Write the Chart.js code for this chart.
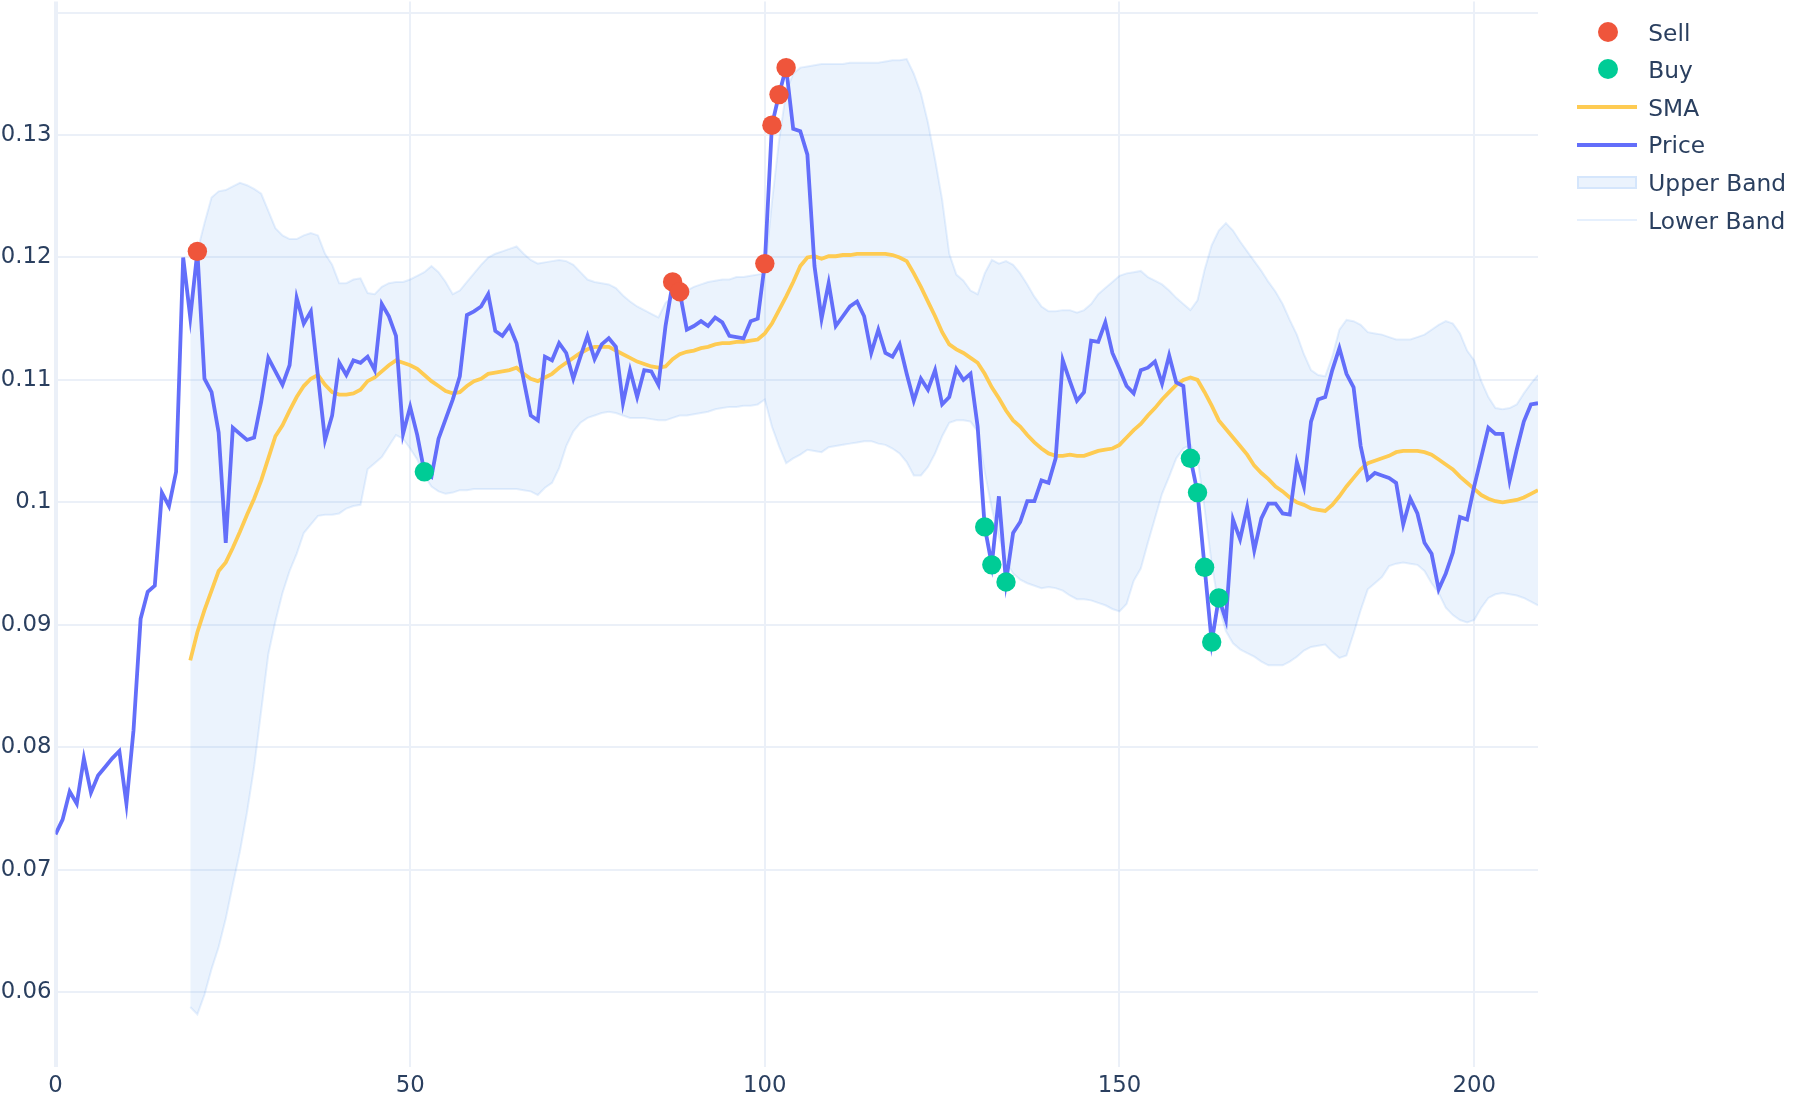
<!DOCTYPE html>
<html>
<head>
<meta charset="utf-8">
<script src="https://cdn.jsdelivr.net/npm/chart.js@4.4.1/dist/chart.umd.min.js"></script>
<style>
    body { margin: 0; background: #fff; }
    #wrap { position: relative; width: 1800px; height: 1100px; }
    #chart { position: absolute; left: 0; top: 0; }
    .legend-item { position: absolute; left: 1577px; width: 223px; height: 27px; }
    .legend-item span { position: absolute; left: 71.3px; top: 0; font: 23.3px "DejaVu Sans", sans-serif; line-height: 27px; color: #2a3f5f; white-space: nowrap; }
    .sym { position: absolute; }
</style>
</head>
<body>
<div id="wrap">
    <canvas id="chart" width="1800" height="1100"></canvas>
    <div id="legend"></div>
</div>
<script>
// x axis is the bar index, bands and SMA start at index 19
const xTicks = [0, 50, 100, 150, 200];
const yTicks = [0.06, 0.07, 0.08, 0.09, 0.10, 0.11, 0.12, 0.13, 0.14];
const yTickLabels = ['0.06', '0.07', '0.08', '0.09', '0.1', '0.11', '0.12', '0.13', ''];
const bandStart = 19;

const price = [
    0.0729, 0.0741, 0.0764, 0.0754, 0.0791, 0.0763, 0.0777, 0.0784, 0.0791, 0.0797,
    0.0754, 0.0814, 0.0905, 0.0927, 0.0932, 0.1008, 0.0997, 0.1025, 0.1200, 0.1151,
    0.1205, 0.1101, 0.1090, 0.1057, 0.0967, 0.1061, 0.1056, 0.1051, 0.1053, 0.1082,
    0.1118, 0.1107, 0.1096, 0.1112, 0.1167, 0.1146, 0.1156, 0.1103, 0.1051, 0.1071,
    0.1114, 0.1104, 0.1116, 0.1114, 0.1119, 0.1108, 0.1162, 0.1152, 0.1136, 0.1056,
    0.1078, 0.1055, 0.1025, 0.1021, 0.1052, 0.1068, 0.1084, 0.1103, 0.1153, 0.1156,
    0.1160, 0.1170, 0.1140, 0.1136, 0.1144, 0.1130, 0.1100, 0.1071, 0.1067, 0.1119,
    0.1116, 0.1130, 0.1122, 0.1101, 0.1119, 0.1136, 0.1117, 0.1129, 0.1134, 0.1127,
    0.1081, 0.1108, 0.1086, 0.1108, 0.1107, 0.1096, 0.1144, 0.1179, 0.1172, 0.1141,
    0.1144, 0.1148, 0.1144, 0.1151, 0.1147, 0.1136, 0.1135, 0.1134, 0.1148, 0.1150,
    0.1195, 0.1308, 0.1333, 0.1355, 0.1305, 0.1303, 0.1284, 0.1193, 0.1150, 0.1179,
    0.1144, 0.1152, 0.1160, 0.1164, 0.1152, 0.1122, 0.1141, 0.1122, 0.1119, 0.1129,
    0.1105, 0.1083, 0.1101, 0.1092, 0.1108, 0.1080, 0.1086, 0.1109, 0.1100, 0.1105,
    0.1062, 0.0980, 0.0949, 0.1005, 0.0935, 0.0975, 0.0984, 0.1001, 0.1001, 0.1018,
    0.1016, 0.1036, 0.1116, 0.1099, 0.1083, 0.1090, 0.1132, 0.1131, 0.1147, 0.1122,
    0.1109, 0.1095, 0.1089, 0.1108, 0.1110, 0.1115, 0.1097, 0.1120, 0.1098, 0.1095,
    0.1036, 0.1008, 0.0947, 0.0886, 0.0922, 0.0904, 0.0986, 0.0970, 0.0996, 0.0961,
    0.0987, 0.0999, 0.0999, 0.0991, 0.0990, 0.1033, 0.1013, 0.1066, 0.1084, 0.1086,
    0.1108, 0.1126, 0.1105, 0.1094, 0.1046, 0.1019, 0.1024, 0.1022, 0.1020, 0.1016,
    0.0982, 0.1003, 0.0991, 0.0967, 0.0958, 0.0929, 0.0942, 0.0959, 0.0988, 0.0986,
    0.1013, 0.1037, 0.1061, 0.1056, 0.1056, 0.1018, 0.1043, 0.1066, 0.1080, 0.1081
];

const sma = [
    0.0871, 0.0894, 0.0912, 0.0928, 0.0944, 0.0951, 0.0963, 0.0976, 0.0990, 0.1003,
    0.1018, 0.1036, 0.1054, 0.1063, 0.1075, 0.1086, 0.1095, 0.1101, 0.1104, 0.1096,
    0.1090, 0.1088, 0.1088, 0.1089, 0.1092, 0.1099, 0.1102, 0.1107, 0.1112, 0.1116,
    0.1114, 0.1112, 0.1109, 0.1104, 0.1099, 0.1095, 0.1091, 0.1089, 0.1090, 0.1095,
    0.1099, 0.1101, 0.1105, 0.1106, 0.1107, 0.1108, 0.1110, 0.1105, 0.1101, 0.1099,
    0.1102, 0.1105, 0.1110, 0.1114, 0.1118, 0.1122, 0.1125, 0.1127, 0.1127, 0.1127,
    0.1124, 0.1121, 0.1118, 0.1115, 0.1113, 0.1111, 0.1110, 0.1111, 0.1117, 0.1121,
    0.1123, 0.1124, 0.1126, 0.1127, 0.1129, 0.1130, 0.1130, 0.1131, 0.1131, 0.1132,
    0.1133, 0.1138, 0.1146, 0.1157, 0.1168, 0.1180, 0.1193, 0.1200, 0.1201, 0.1199,
    0.1201, 0.1201, 0.1202, 0.1202, 0.1203, 0.1203, 0.1203, 0.1203, 0.1203, 0.1202,
    0.1200, 0.1197, 0.1187, 0.1176, 0.1164, 0.1152, 0.1139, 0.1129, 0.1125, 0.1122,
    0.1118, 0.1114, 0.1105, 0.1094, 0.1085, 0.1075, 0.1067, 0.1062, 0.1055, 0.1049,
    0.1044, 0.1040, 0.1038, 0.1038, 0.1039, 0.1038, 0.1038, 0.1040, 0.1042, 0.1043,
    0.1044, 0.1047, 0.1053, 0.1059, 0.1064, 0.1071, 0.1077, 0.1084, 0.1090, 0.1096,
    0.1100, 0.1102, 0.1100, 0.1090, 0.1079, 0.1067, 0.1060, 0.1053, 0.1046, 0.1039,
    0.1030, 0.1024, 0.1019, 0.1013, 0.1009, 0.1004, 0.1000, 0.0998, 0.0995, 0.0994,
    0.0993, 0.0998, 0.1005, 0.1013, 0.1020, 0.1027, 0.1032, 0.1034, 0.1036, 0.1038,
    0.1041, 0.1042, 0.1042, 0.1042, 0.1041, 0.1039, 0.1035, 0.1031, 0.1027, 0.1021,
    0.1016, 0.1011, 0.1006, 0.1003, 0.1001, 0.1000, 0.1001, 0.1002, 0.1004, 0.1007,
    0.1010
];

const upperBand = [
    0.1160, 0.1205, 0.1228, 0.1249, 0.1254, 0.1255, 0.1258, 0.1261, 0.1259, 0.1256,
    0.1252, 0.1238, 0.1224, 0.1218, 0.1215, 0.1215, 0.1218, 0.1220, 0.1218, 0.1203,
    0.1194, 0.1179, 0.1179, 0.1182, 0.1183, 0.1171, 0.1170, 0.1176, 0.1179, 0.1180,
    0.1180, 0.1182, 0.1185, 0.1188, 0.1193, 0.1188, 0.1180, 0.1170, 0.1173, 0.1180,
    0.1187, 0.1194, 0.1200, 0.1203, 0.1205, 0.1207, 0.1209, 0.1203, 0.1198, 0.1195,
    0.1196, 0.1197, 0.1198, 0.1197, 0.1194, 0.1188, 0.1182, 0.1180, 0.1179, 0.1178,
    0.1175, 0.1169, 0.1164, 0.1160, 0.1157, 0.1154, 0.1151, 0.1163, 0.1168, 0.1171,
    0.1173, 0.1176, 0.1178, 0.1180, 0.1181, 0.1182, 0.1182, 0.1184, 0.1184, 0.1185,
    0.1186, 0.1187, 0.1245, 0.1295, 0.1335, 0.1350, 0.1355, 0.1356, 0.1357, 0.1358,
    0.1358, 0.1358, 0.1358, 0.1359, 0.1359, 0.1359, 0.1359, 0.1359, 0.1360, 0.1361,
    0.1361, 0.1362, 0.1350, 0.1334, 0.1310, 0.1280, 0.1247, 0.1203, 0.1186, 0.1181,
    0.1173, 0.1170, 0.1187, 0.1198, 0.1195, 0.1197, 0.1194, 0.1187, 0.1178, 0.1168,
    0.1160, 0.1156, 0.1156, 0.1157, 0.1157, 0.1155, 0.1157, 0.1162, 0.1170, 0.1175,
    0.1180, 0.1185, 0.1187, 0.1188, 0.1189, 0.1184, 0.1181, 0.1178, 0.1173, 0.1167,
    0.1162, 0.1157, 0.1165, 0.1190, 0.1210, 0.1222, 0.1228, 0.1222, 0.1213, 0.1205,
    0.1197, 0.1189, 0.1180, 0.1172, 0.1162, 0.1149, 0.1137, 0.1121, 0.1108, 0.1104,
    0.1103, 0.1119, 0.1141, 0.1149, 0.1148, 0.1145, 0.1139, 0.1138, 0.1137, 0.1135,
    0.1133, 0.1133, 0.1133, 0.1135, 0.1137, 0.1141, 0.1145, 0.1148, 0.1146, 0.1138,
    0.1124, 0.1116, 0.1099, 0.1086, 0.1077, 0.1076, 0.1077, 0.1080, 0.1089, 0.1097,
    0.1104
];

const lowerBand = [
    0.0588, 0.0582, 0.0598, 0.0619, 0.0637, 0.0660, 0.0688, 0.0715, 0.0747, 0.0784,
    0.0830, 0.0876, 0.0903, 0.0926, 0.0944, 0.0958, 0.0975, 0.0982, 0.0989, 0.0990,
    0.0990, 0.0991, 0.0995, 0.0997, 0.0998, 0.1027, 0.1032, 0.1037, 0.1046, 0.1055,
    0.1052, 0.1044, 0.1035, 0.1022, 0.1013, 0.1009, 0.1007, 0.1008, 0.1010, 0.1010,
    0.1011, 0.1011, 0.1011, 0.1011, 0.1011, 0.1011, 0.1011, 0.1010, 0.1009, 0.1006,
    0.1012, 0.1016, 0.1028, 0.1046, 0.1058, 0.1065, 0.1069, 0.1071, 0.1073, 0.1074,
    0.1073, 0.1071, 0.1069, 0.1069, 0.1069, 0.1068, 0.1067, 0.1067, 0.1069, 0.1071,
    0.1071, 0.1072, 0.1073, 0.1074, 0.1076, 0.1077, 0.1078, 0.1078, 0.1079, 0.1079,
    0.1080, 0.1084, 0.1062, 0.1046, 0.1032, 0.1036, 0.1039, 0.1043, 0.1042, 0.1041,
    0.1045, 0.1046, 0.1047, 0.1048, 0.1049, 0.1050, 0.1050, 0.1048, 0.1047, 0.1044,
    0.1040, 0.1033, 0.1022, 0.1022, 0.1029, 0.1040, 0.1054, 0.1065, 0.1067, 0.1067,
    0.1066, 0.1058, 0.1025, 0.0995, 0.0972, 0.0952, 0.0942, 0.0937, 0.0934, 0.0932,
    0.0930, 0.0931, 0.0930, 0.0928, 0.0924, 0.0921, 0.0921, 0.0920, 0.0918, 0.0916,
    0.0913, 0.0911, 0.0917, 0.0936, 0.0946, 0.0967, 0.0987, 0.1007, 0.1021, 0.1036,
    0.1044, 0.1047, 0.1036, 0.0995, 0.0950, 0.0915, 0.0895, 0.0885, 0.0880, 0.0877,
    0.0874, 0.0870, 0.0867, 0.0867, 0.0867, 0.0870, 0.0874, 0.0879, 0.0882, 0.0883,
    0.0884, 0.0878, 0.0873, 0.0875, 0.0893, 0.0912, 0.0929, 0.0934, 0.0939, 0.0948,
    0.0950, 0.0951, 0.0950, 0.0949, 0.0944, 0.0934, 0.0926, 0.0914, 0.0908, 0.0904,
    0.0902, 0.0904, 0.0914, 0.0922, 0.0925, 0.0926, 0.0925, 0.0924, 0.0922, 0.0919,
    0.0916
];

const sellX = [20, 87, 88, 100, 101, 102, 103];
const sellY = [0.1205, 0.1180, 0.1172, 0.1195, 0.1308, 0.1333, 0.1355];
const buyX = [52, 131, 132, 134, 160, 161, 162, 163, 164];
const buyY = [0.1025, 0.0980, 0.0949, 0.0935, 0.1036, 0.1008, 0.0947, 0.0886, 0.0922];

const COLORS = {
    sell: '#EF553B',
    buy: '#00CC96',
    sma: '#FECB52',
    price: '#636EFA',
    bandFill: 'rgba(100, 160, 240, 0.13)',
    bandLine: 'rgba(100, 160, 240, 0.16)',
    grid: '#EBF0F8',
    text: '#2a3f5f'
};
const FONT = { family: '"DejaVu Sans", sans-serif', size: 22.8 };

const toPoints = (ys, start) => ys.map((y, i) => ({ x: i + start, y: y }));
const zipPoints = (xs, ys) => xs.map((x, i) => ({ x: x, y: ys[i] }));

new Chart(document.getElementById('chart'), {
    type: 'line',
    data: {
        datasets: [
            {
                label: 'Sell',
                data: zipPoints(sellX, sellY),
                showLine: false,
                pointRadius: 9.7,
                pointBackgroundColor: COLORS.sell,
                pointBorderWidth: 0,
                order: 0
            },
            {
                label: 'Buy',
                data: zipPoints(buyX, buyY),
                showLine: false,
                pointRadius: 9.7,
                pointBackgroundColor: COLORS.buy,
                pointBorderWidth: 0,
                order: 0
            },
            {
                label: 'SMA',
                data: toPoints(sma, bandStart),
                borderColor: COLORS.sma,
                borderWidth: 3.8,
                pointRadius: 0,
                fill: false,
                order: 2
            },
            {
                label: 'Price',
                data: toPoints(price, 0),
                borderColor: COLORS.price,
                borderWidth: 3.8,
                pointRadius: 0,
                fill: false,
                order: 1
            },
            {
                label: 'Upper Band',
                data: toPoints(upperBand, bandStart),
                borderColor: COLORS.bandLine,
                backgroundColor: COLORS.bandFill,
                borderWidth: 2,
                pointRadius: 0,
                fill: '+1',
                order: 3
            },
            {
                label: 'Lower Band',
                data: toPoints(lowerBand, bandStart),
                borderColor: COLORS.bandLine,
                borderWidth: 2,
                pointRadius: 0,
                fill: false,
                order: 3
            }
        ]
    },
    options: {
        responsive: false,
        devicePixelRatio: 1,
        animation: false,
        events: [],
        layout: { autoPadding: false, padding: { left: 0, top: 1.5, right: 262, bottom: 0 } },
        plugins: {
            legend: { display: false },
            tooltip: { enabled: false }
        },
        scales: {
            x: {
                type: 'linear',
                min: 0,
                max: 209,
                afterBuildTicks: scale => { scale.ticks = xTicks.map(v => ({ value: v })); },
                afterFit: scale => {
                    scale.height = 33;
                    scale.paddingLeft = 0;
                    scale.paddingRight = 0;
                },
                grid: {
                    color: COLORS.grid,
                    lineWidth: ctx => (ctx.tick && ctx.tick.value === 0 ? 4 : 2),
                    drawTicks: false
                },
                border: { display: false },
                ticks: { color: COLORS.text, font: FONT, padding: 5, maxRotation: 0 }
            },
            y: {
                type: 'linear',
                min: 0.0539,
                max: 0.1409,
                afterBuildTicks: scale => { scale.ticks = yTicks.map(v => ({ value: v })); },
                afterFit: scale => {
                    scale.width = 55.5;
                    scale.paddingTop = 0;
                    scale.paddingBottom = 0;
                },
                grid: { color: COLORS.grid, lineWidth: 2, drawTicks: false },
                border: { display: false },
                ticks: {
                    color: COLORS.text,
                    font: FONT,
                    padding: 4,
                    callback: (value, index) => yTickLabels[index]
                }
            }
        }
    }
});

// Legend, drawn as html next to the plot
const legendItems = [
    { label: 'Sell', kind: 'dot', color: COLORS.sell },
    { label: 'Buy', kind: 'dot', color: COLORS.buy },
    { label: 'SMA', kind: 'line', color: COLORS.sma, width: 4 },
    { label: 'Price', kind: 'line', color: COLORS.price, width: 4 },
    { label: 'Upper Band', kind: 'box', color: COLORS.bandFill },
    { label: 'Lower Band', kind: 'line', color: COLORS.bandLine, width: 2.7 }
];
const legend = document.getElementById('legend');
legendItems.forEach((item, i) => {
    const centre = 31.7 + i * 37.66;
    const row = document.createElement('div');
    row.className = 'legend-item';
    row.style.top = (centre - 13.2) + 'px';

    const sym = document.createElement('div');
    sym.className = 'sym';
    const mid = 13.2;
    if (item.kind === 'dot') {
        Object.assign(sym.style, {
            left: '20.7px', top: (mid - 10) + 'px', width: '20px', height: '20px',
            borderRadius: '50%', background: item.color
        });
    } else if (item.kind === 'line') {
        Object.assign(sym.style, {
            left: '0px', top: (mid - item.width / 2) + 'px', width: '60px',
            height: item.width + 'px', background: item.color
        });
    } else {
        Object.assign(sym.style, {
            left: '0px', top: (mid - 6.5) + 'px', width: '60px', height: '13px',
            background: item.color, boxSizing: 'border-box',
            border: '2px solid ' + COLORS.bandLine
        });
    }
    row.appendChild(sym);

    const text = document.createElement('span');
    text.textContent = item.label;
    row.appendChild(text);
    legend.appendChild(row);
});
</script>
</body>
</html>
